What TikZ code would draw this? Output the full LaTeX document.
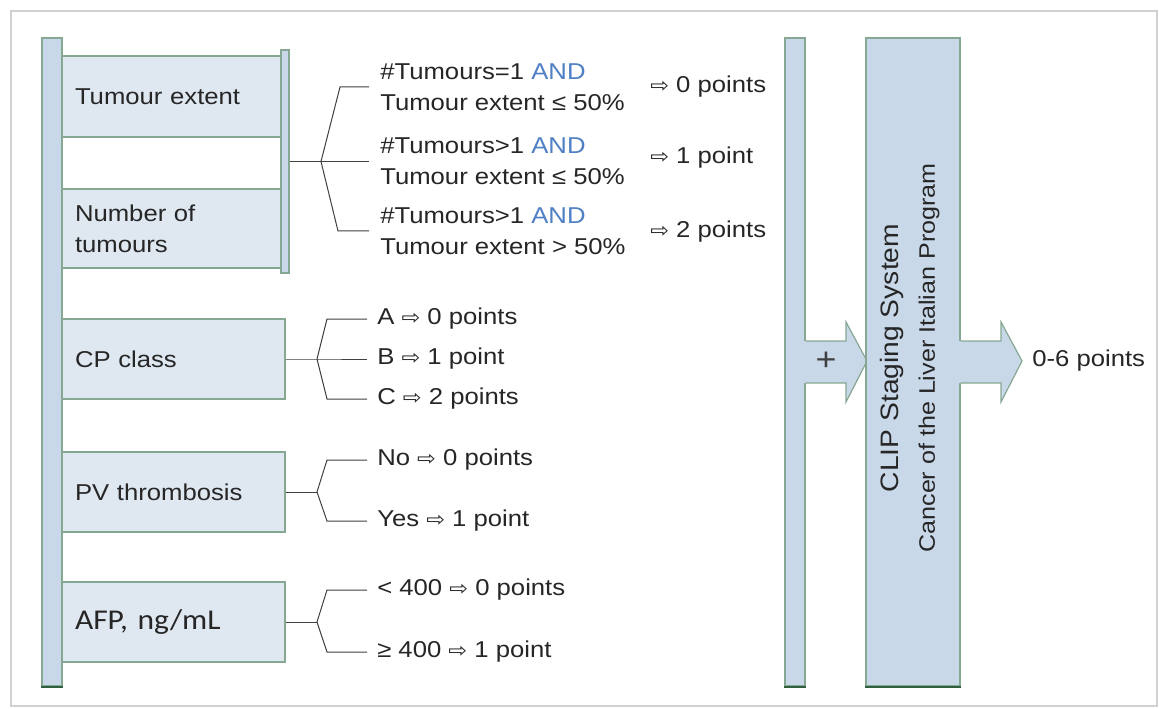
\documentclass[tikz,border=0pt]{standalone}
\usepackage{fontspec}
\setmainfont{Liberation Sans}[FakeStretch=1.12]
\newfontfamily\symfont{DejaVu Sans}[FakeStretch=1.12]
\newfontfamily\calfont{Carlito}[FakeStretch=1.1]
\definecolor{boxfill}{HTML}{DFE7F1}
\definecolor{barfill}{HTML}{C9D8E8}
\definecolor{bordergreen}{HTML}{86A893}
\definecolor{darkgreen}{HTML}{2F5F3F}
\definecolor{andblue}{HTML}{4F7FC4}
\definecolor{txtcol}{HTML}{262626}
\definecolor{linecol}{HTML}{404040}
\newcommand{\rarrsym}{{\symfont\fontsize{15}{15}\selectfont ⇨}}
\begin{document}
\begin{tikzpicture}[x=0.75pt,y=-0.75pt,
  every node/.style={text=txtcol},
  boxst/.style={draw=bordergreen, fill=boxfill, line width=0.9pt, rectangle,
    align=left, inner xsep=9.75pt, inner ysep=0pt,
    font=\fontsize{17.2}{23.25}\selectfont},
  barst/.style={draw=bordergreen, fill=barfill, line width=0.9pt, rectangle, inner sep=0pt},
  conn/.style={draw=linecol, line width=0.75pt},
  txt/.style={inner sep=0pt, anchor=west, align=left, font=\fontsize{17.2}{23.25}\selectfont},
]
\useasboundingbox (0,0) rectangle (1159,709);
% frame
\draw[draw=black!18, line width=1.2pt, fill=white] (11,11) rectangle (1157,706);

% left bar
\node[barst, minimum width=15pt, minimum height=486pt] (lbar) at (52,362) {};
\draw[darkgreen, line width=1.5pt] (lbar.south west) -- (lbar.south east);

% input boxes
\node[boxst, minimum width=164.25pt, minimum height=60.75pt, text width=144.75pt] (te) at (171.5,96.5) {Tumour extent};
\node[boxst, minimum width=164.25pt, minimum height=59.25pt, text width=144.75pt] (nt) at (171.5,228.5) {Number of\\tumours};
\node[barst, minimum width=6pt, minimum height=167.25pt] (sbar) at (285,161.5) {};
\node[boxst, minimum width=167.25pt, minimum height=60pt, text width=147.75pt] (cp) at (173.5,359) {CP class};
\node[boxst, minimum width=167.25pt, minimum height=60pt, text width=147.75pt] (pv) at (173.5,492) {PV thrombosis};
\node[boxst, minimum width=167.25pt, minimum height=60pt, text width=147.75pt, font=\calfont\fontsize{21.5}{24}\selectfont] (afp) at (173.5,622) {AFP, ng/mL};

% group 1 texts
\node[txt] (g1a) at (380,87) {\#Tumours=1 \textcolor{andblue}{AND}\\Tumour extent ≤ 50\%};
\node[txt] (g1b) at (380,161.5) {\#Tumours>1 \textcolor{andblue}{AND}\\Tumour extent ≤ 50\%};
\node[txt] (g1c) at (380,231) {\#Tumours>1 \textcolor{andblue}{AND}\\Tumour extent > 50\%};
\node[txt] (p1a) at (650,87) {\rarrsym\ 0 points};
\node[txt] (p1b) at (650,158) {\rarrsym\ 1 point};
\node[txt] (p1c) at (650,232) {\rarrsym\ 2 points};

% group 2
\node[txt] (g2a) at (377,319) {A \rarrsym\ 0 points};
\node[txt] (g2b) at (377,359) {B \rarrsym\ 1 point};
\node[txt] (g2c) at (377,399) {C \rarrsym\ 2 points};
% group 3
\node[txt] (g3a) at (377,460) {No \rarrsym\ 0 points};
\node[txt] (g3b) at (377,521) {Yes \rarrsym\ 1 point};
% group 4
\node[txt] (g4a) at (377,590) {< 400 \rarrsym\ 0 points};
\node[txt] (g4b) at (377,652) {≥ 400 \rarrsym\ 1 point};

% connectors group 1
\coordinate (j1) at (321,161.5);
\draw[conn] (sbar.east) -- (j1);
\draw[conn] (j1) -- ([xshift=-8.25pt]g1b.west);
\draw[conn] (j1) -- (340,87) -- ([xshift=-8.25pt]g1a.west);
\draw[conn] (j1) -- (338,231) -- ([xshift=-8.25pt]g1c.west);
% group 2
\coordinate (j2) at (317,359);
\draw[conn] (cp.east) -- (j2) -- ([xshift=-7.5pt]g2b.west);
\draw[conn] (j2) -- (327,319) -- ([xshift=-7.5pt]g2a.west);
\draw[conn] (j2) -- (327,399) -- ([xshift=-7.5pt]g2c.west);
% group 3
\coordinate (j3) at (317,492);
\draw[conn] (pv.east) -- (j3);
\draw[conn] (j3) -- (327,460) -- ([xshift=-7.5pt]g3a.west);
\draw[conn] (j3) -- (327,521) -- ([xshift=-7.5pt]g3b.west);
% group 4
\coordinate (j4) at (317,622);
\draw[conn] (afp.east) -- (j4);
\draw[conn] (j4) -- (327,590) -- ([xshift=-7.5pt]g4a.west);
\draw[conn] (j4) -- (327,652) -- ([xshift=-7.5pt]g4b.west);

% plus bar with arrow
\node[barst, minimum width=15pt, minimum height=486pt] (pbar) at (795,362) {};
\draw[darkgreen, line width=1.5pt] (pbar.south west) -- (pbar.south east);
\fill[barfill] (804,341) -- (846,341) -- (846,322) -- (867,361) -- (846,402) -- (846,383) -- (804,383) -- cycle;
\draw[draw=bordergreen, line width=0.9pt, line join=miter] (pbar.east |- 0,341) -- (846,341) -- (846,322) -- (867,361) -- (846,402) -- (846,383) -- (pbar.east |- 0,383);
\node[inner sep=0pt, text=linecol, font=\fontsize{24}{24}\selectfont] (plus) at (826,361) {+};

% CLIP box
\node[barst, minimum width=70.5pt, minimum height=486pt] (clip) at (913,362) {};
\draw[darkgreen, line width=1.5pt] (clip.south west) -- (clip.south east);
\node[rotate=90, align=center, inner sep=0pt, font=\fontsize{16.8}{27}\selectfont] (cliptxt) at (910,358)
  {{\fontsize{18.9}{27}\selectfont CLIP Staging System}\\Cancer of the Liver Italian Program};

% output arrow
\fill[barfill] (959,341) -- (1001,341) -- (1001,322) -- (1022,361) -- (1001,402) -- (1001,383) -- (959,383) -- cycle;
\draw[draw=bordergreen, line width=0.9pt, line join=miter] (clip.east |- 0,341) -- (1001,341) -- (1001,322) -- (1022,361) -- (1001,402) -- (1001,383) -- (clip.east |- 0,383);
\node[txt] (out) at (1032,361) {0-6 points};
\end{tikzpicture}
\end{document}
